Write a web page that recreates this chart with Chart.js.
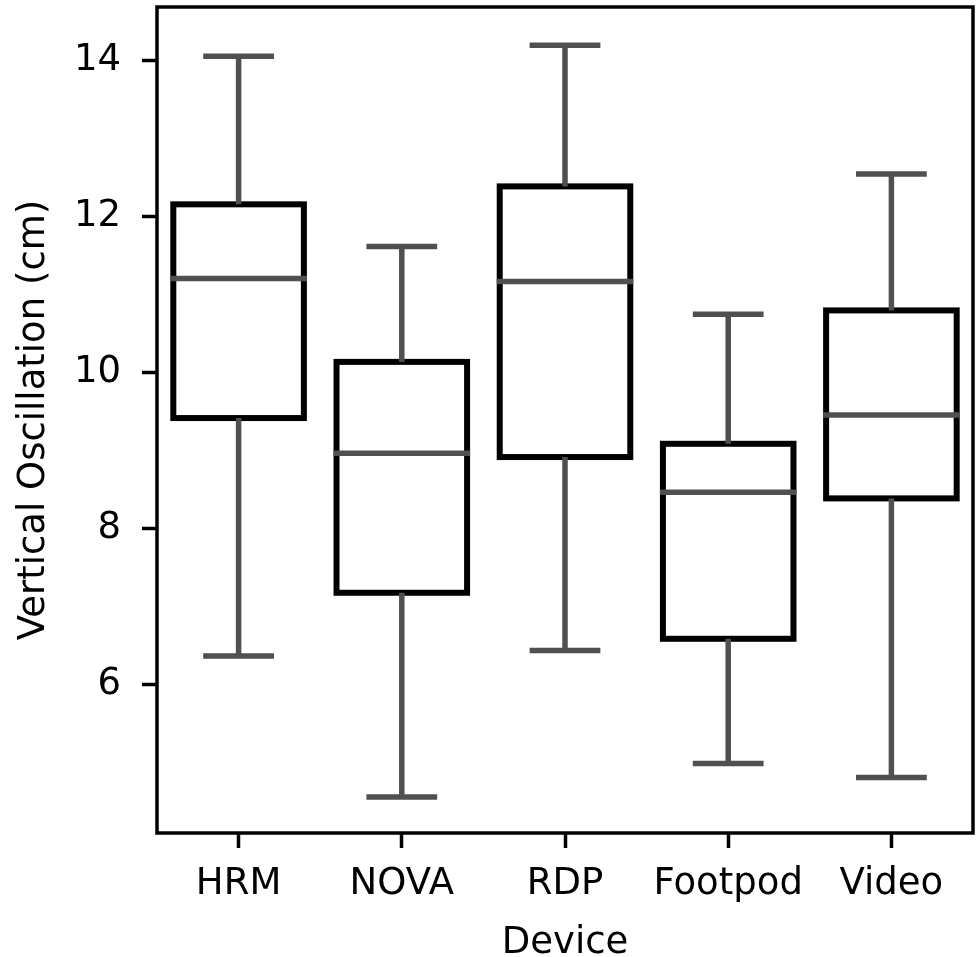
<!DOCTYPE html>
<html>
<head>
<meta charset="utf-8">
<script src="https://cdn.jsdelivr.net/npm/chart.js@4.4.0/dist/chart.umd.min.js"></script>
<style>
  html, body { margin: 0; padding: 0; background: #fff; }
  #wrap { width: 976px; height: 957px; }
</style>
</head>
<body>
<div id="wrap"><canvas id="box-chart" width="976" height="957"></canvas></div>
<script>
const categories = ['HRM', 'NOVA', 'RDP', 'Footpod', 'Video'];
const whiskerLow = [6.37, 4.56, 6.44, 4.99, 4.81];
const q1 = [9.42, 7.18, 8.92, 6.59, 8.39];
const median = [11.21, 8.97, 11.17, 8.47, 9.46];
const q3 = [12.16, 10.14, 12.39, 9.09, 10.80];
const whiskerHigh = [14.06, 11.62, 14.20, 10.75, 12.55];
const yTicks = [6, 8, 10, 12, 14];

const FONT = 'DejaVu Sans';
const lineGray = '#505050';

// draws box outline, whiskers and medians on top of the floating bars
const boxPlotPlugin = {
    id: 'boxPlot',
    afterDatasetsDraw(chart) {
        const ctx = chart.ctx;
        const y = chart.scales.y;
        const meta = chart.getDatasetMeta(0);
        ctx.save();
        meta.data.forEach((bar, i) => {
            const { x, width } = bar.getProps(['x', 'width'], true);
            const yQ1 = y.getPixelForValue(q1[i]);
            const yQ3 = y.getPixelForValue(q3[i]);
            const yMed = y.getPixelForValue(median[i]);
            const yLo = y.getPixelForValue(whiskerLow[i]);
            const yHi = y.getPixelForValue(whiskerHigh[i]);

            // box
            ctx.strokeStyle = '#000';
            ctx.lineWidth = 6;
            ctx.lineJoin = 'miter';
            ctx.strokeRect(x - width / 2, yQ3, width, yQ1 - yQ3);

            // whiskers
            ctx.strokeStyle = lineGray;
            ctx.lineWidth = 5.5;
            ctx.lineCap = 'butt';
            ctx.beginPath();
            ctx.moveTo(x, yQ3);
            ctx.lineTo(x, yHi);
            ctx.moveTo(x, yQ1);
            ctx.lineTo(x, yLo);
            ctx.stroke();

            // caps
            ctx.lineCap = 'square';
            ctx.beginPath();
            ctx.moveTo(x - width / 4, yHi);
            ctx.lineTo(x + width / 4, yHi);
            ctx.moveTo(x - width / 4, yLo);
            ctx.lineTo(x + width / 4, yLo);
            ctx.stroke();

            // median
            ctx.lineCap = 'butt';
            ctx.beginPath();
            ctx.moveTo(x - width / 2 - 3, yMed);
            ctx.lineTo(x + width / 2 + 3, yMed);
            ctx.stroke();
        });
        ctx.restore();
    },
    afterDraw(chart) {
        const a = chart.chartArea;
        const ctx = chart.ctx;
        ctx.save();
        ctx.strokeStyle = '#000';
        ctx.lineWidth = 3.5;
        ctx.strokeRect(a.left, a.top, a.right - a.left, a.bottom - a.top);
        ctx.restore();
    }
};

function noLabelPadding(scale) {
    scale.paddingTop = 0;
    scale.paddingBottom = 0;
    scale.paddingLeft = 0;
    scale.paddingRight = 0;
}

const ctx = document.getElementById('box-chart').getContext('2d');
const boxChart = new Chart(ctx, {
    type: 'bar',
    data: {
        labels: categories,
        datasets: [{
            label: 'IQR',
            data: categories.map((c, i) => [q1[i], q3[i]]),
            backgroundColor: '#ffffff',
            borderWidth: 0,
            barPercentage: 0.8,
            categoryPercentage: 1.0
        }]
    },
    options: {
        responsive: false,
        animation: false,
        devicePixelRatio: 1,
        layout: { padding: { top: 7, right: 3, left: 0, bottom: 0 } },
        plugins: {
            legend: { display: false },
            tooltip: { enabled: false }
        },
        scales: {
            x: {
                offset: true,
                grid: {
                    offset: false,
                    drawOnChartArea: false,
                    drawTicks: true,
                    tickLength: 15,
                    tickWidth: 3.5,
                    tickColor: '#000'
                },
                border: { display: false },
                ticks: {
                    color: '#000',
                    padding: 14,
                    font: { family: FONT, size: 37 },
                    maxRotation: 0
                },
                title: {
                    display: true,
                    text: 'Device',
                    color: '#000',
                    font: { family: FONT, size: 37, lineHeight: 1.0 },
                    padding: { top: 0, bottom: -5 }
                },
                afterFit(scale) {
                    scale.height = 124;
                    noLabelPadding(scale);
                }
            },
            y: {
                min: 4.1,
                max: 14.69,
                grid: {
                    drawOnChartArea: false,
                    drawTicks: true,
                    tickLength: 15,
                    tickWidth: 3.5,
                    tickColor: '#000'
                },
                border: { display: false },
                ticks: {
                    color: '#000',
                    padding: 21,
                    font: { family: FONT, size: 37 }
                },
                afterBuildTicks(scale) {
                    scale.ticks = yTicks.map(v => ({ value: v }));
                },
                title: {
                    display: true,
                    text: 'Vertical Oscillation (cm)',
                    color: '#000',
                    font: { family: FONT, size: 37, lineHeight: 1.0 },
                    padding: { top: 16, bottom: 0 }
                },
                afterFit(scale) {
                    scale.width = 157;
                    noLabelPadding(scale);
                }
            }
        }
    },
    plugins: [boxPlotPlugin]
});
</script>
</body>
</html>
